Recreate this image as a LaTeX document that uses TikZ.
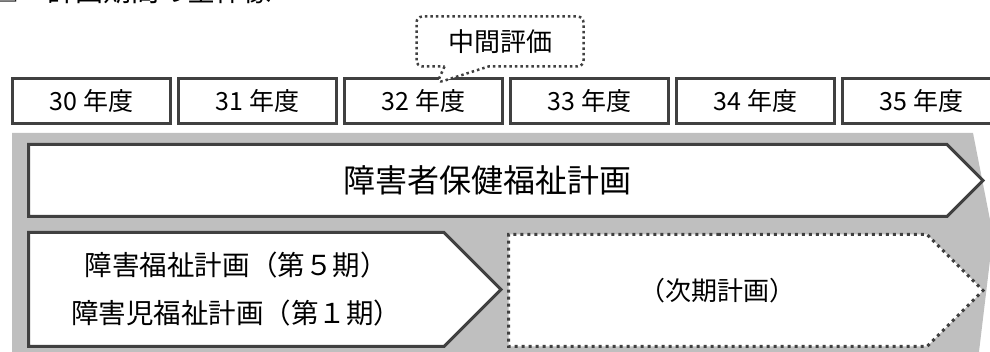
\documentclass[tikz,border=0pt]{standalone}
\usepackage{fontspec}
\setmainfont{Noto Sans CJK JP}
\usetikzlibrary{positioning,shapes.symbols,shapes.callouts}
\definecolor{borda}{HTML}{404040}
\definecolor{cinza}{HTML}{BFBFBF}
\tikzstyle{ano} = [rectangle, minimum width=158pt, minimum height=45pt, inner sep=0pt, text centered, draw=borda, line width=3pt, fill=white, font=\fontsize{25}{28}\selectfont]
\tikzstyle{plano} = [signal, signal to=east, signal pointer angle=90, draw=borda, line width=3pt, fill=white, outer sep=0pt, inner sep=0pt, align=center, font=\fontsize{27.5}{48}\selectfont]
\tikzstyle{planoprox} = [plano, dash pattern=on 3pt off 4pt]
\tikzstyle{balao} = [rectangle callout, rounded corners=6pt, minimum width=167pt, minimum height=50pt, draw=borda, line width=2.5pt, dash pattern=on 2.5pt off 3pt, fill=white, callout pointer width=44pt, font=\fontsize{26}{28}\selectfont]

\begin{document}
\begin{tikzpicture}[x=1pt, y=-1pt, node distance=5pt]
        \useasboundingbox (0,0) rectangle (990,352);
        \clip (0,0) rectangle (990,352);
        % Título (cortado)
        \node (titulo) [anchor=base west, font=\fontsize{28}{30}\selectfont] at (-12,2) {□　計画期間の全体像};
        % Fundo cinza
        \fill [cinza] (12,133) -- (973,133) -- (993,235) -- (978,360) -- (12,360) -- cycle;
        % Anos
        \node (a30) [ano] at (91.5,101) {30 年度};
        \node (a31) [ano, right=of a30] {31 年度};
        \node (a32) [ano, right=of a31] {32 年度};
        \node (a33) [ano, right=of a32] {33 年度};
        \node (a34) [ano, right=of a33] {34 年度};
        \node (a35) [ano, right=of a34] {35 年度};
        % Balão do meio do período
        \coordinate (ponta) at (437,83);
        \node (meio) [balao, callout absolute pointer=(ponta)] at (500,41.5) {中間評価};
        % Planos
        \node (geral) [plano, minimum width=954.5pt, minimum height=72pt, anchor=west, font=\fontsize{32}{34}\selectfont] at (28.5,180.5) {障害者保健福祉計画};
        \node (atual) [plano, minimum width=472.5pt, minimum height=114pt, anchor=west] at (28.5,289.5) {障害福祉計画（第５期）\\障害児福祉計画（第１期）};
        \node (proximo) [planoprox, minimum width=474.5pt, minimum height=112pt, anchor=west, font=\fontsize{26}{28}\selectfont] at (508.5,290.5) {（次期計画）};
\end{tikzpicture}
\end{document}
